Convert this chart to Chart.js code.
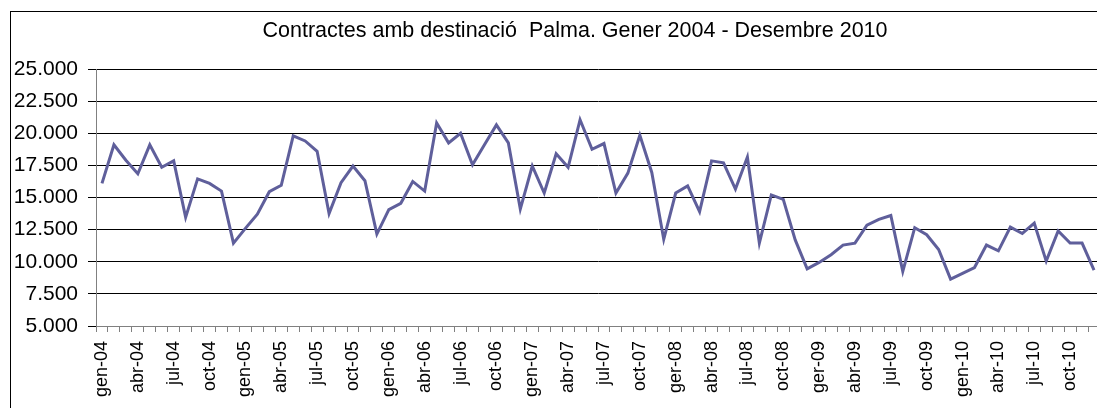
<!DOCTYPE html>
<html>
<head>
<meta charset="utf-8">
<script src="https://cdn.jsdelivr.net/npm/chart.js@4/dist/chart.umd.min.js"></script>
<style>
html, body { margin: 0; padding: 0; overflow: hidden; background: #fff; }
canvas { display: block; }
</style>
</head>
<body>
<canvas id="chart" width="1100" height="408"></canvas>
<script>
// one category per month, gen-04 .. des-10
const years = ["04", "05", "06", "07", "08", "09", "10"];
const monthNames = ["gen", "feb", "mar", "abr", "mai", "jun", "jul", "ago", "set", "oct", "nov", "des"];
const categories = [];
years.forEach(y => monthNames.forEach(m => categories.push(m + "-" + y)));

// labels shown on the axis, one every three months (as printed in the source)
const tickLabels = [
    "gen-04", "abr-04", "jul-04", "oct-04",
    "gen-05", "abr-05", "jul-05", "oct-05",
    "gen-06", "abr-06", "jul-06", "oct-06",
    "gen-07", "abr-07", "jul-07", "oct-07",
    "ger-08", "abr-08", "jul-08", "oct-08",
    "ger-09", "abr-09", "jul-09", "oct-09",
    "gen-10", "abr-10", "jul-10", "oct-10"
];

const contractes = [
    16100, 19100, 17900, 16850, 19100, 17350, 17850, 13450, 16450, 16100, 15500, 11450,
    12600, 13700, 15450, 15950, 19800, 19400, 18600, 13750, 16150, 17450, 16300, 12150,
    14050, 14550, 16250, 15500, 20800, 19250, 20000, 17550, 19100, 20650, 19250, 14100,
    17450, 15350, 18400, 17350, 21050, 18750, 19200, 15350, 16900, 19850, 16950, 11750,
    15350, 15900, 13900, 17850, 17700, 15650, 18150, 11450, 15200, 14850, 11700, 9450,
    9950, 10550, 11300, 11450, 12850, 13300, 13600, 9250, 12650, 12100, 10950, 8650,
    9100, 9550, 11300, 10850, 12700, 12200, 13000, 10050, 12400, 11450, 11450, 9350
];

const titleText = "Contractes amb destinació  Palma. Gener 2004 - Desembre 2010";
const fontFamily = "'Liberation Sans', Arial, sans-serif";

// outer frame and title (the source frame is wider than the window, so the
// title sits right of the canvas centre)
const frame = {
    id: "frame",
    beforeDraw(chart) {
        const ctx = chart.ctx;
        ctx.save();
        ctx.strokeStyle = "#000";
        ctx.lineWidth = 1;
        ctx.strokeRect(10.5, 11.5, 3000, 3000);
        ctx.fillStyle = "#000";
        ctx.font = "21.5px " + fontFamily;
        ctx.textAlign = "center";
        ctx.textBaseline = "middle";
        ctx.fillText(titleText, 575, 31);
        ctx.restore();
    }
};

function thousands(v) {
    return String(v).replace(/\B(?=(\d{3})+(?!\d))/g, ".");
}

new Chart(document.getElementById("chart").getContext("2d"), {
    type: "line",
    data: {
        labels: categories,
        datasets: [{
            data: contractes,
            borderColor: "#5f5f9b",
            borderWidth: 3,
            pointRadius: 0,
            tension: 0,
            fill: false
        }]
    },
    options: {
        responsive: false,
        animation: false,
        layout: { padding: { top: 69, left: 0, right: 0, bottom: 0 } },
        plugins: {
            legend: { display: false },
            tooltip: { enabled: false },
            title: { display: false }
        },
        scales: {
            x: {
                offset: true,
                grid: {
                    offset: true,
                    drawOnChartArea: false,
                    drawTicks: true,
                    tickLength: 6,
                    color: "#808080"
                },
                border: { color: "#808080" },
                ticks: {
                    autoSkip: false,
                    maxRotation: 90,
                    minRotation: 90,
                    padding: 9,
                    color: "#000",
                    font: { family: fontFamily, size: 18 },
                    callback: (v, i) => (i % 3 === 0 ? tickLabels[i / 3] : "")
                },
                afterFit(scale) {
                    scale.height = 82;
                    scale.paddingLeft = 0;
                    scale.paddingRight = 0;
                }
            },
            y: {
                min: 5000,
                max: 25000,
                grid: { color: "#000", lineWidth: 1, tickLength: 8 },
                border: { color: "#808080" },
                ticks: {
                    stepSize: 2500,
                    padding: 10,
                    color: "#000",
                    font: { family: fontFamily, size: 21 },
                    callback: v => thousands(v)
                },
                afterFit(scale) { scale.width = 96; }
            }
        }
    },
    plugins: [frame]
});
</script>
</body>
</html>
